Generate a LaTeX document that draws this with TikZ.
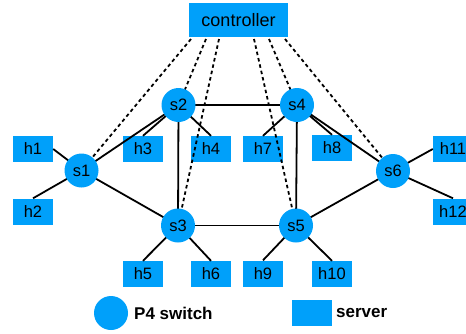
\documentclass[tikz,border=0pt]{standalone}
\usepackage{fontspec}
\setmainfont{Liberation Sans}
\definecolor{netblue}{RGB}{0,160,250}
\tikzset{
  switchnode/.style={circle, fill=netblue, minimum size=34pt, inner sep=0pt, font=\fontsize{16.5}{16.5}\selectfont},
  hostnode/.style={rectangle, fill=netblue, minimum width=40pt, minimum height=26pt, inner sep=0pt, font=\fontsize{16.5}{16.5}\selectfont},
  ctrlnode/.style={rectangle, fill=netblue, minimum width=99pt, minimum height=34pt, inner sep=0pt, font=\fontsize{18}{18}\selectfont},
  link/.style={line width=1.8pt, black},
  ctrllink/.style={line width=1.8pt, black, dash pattern=on 3.5pt off 3pt},
  legendtext/.style={anchor=west, inner sep=0pt, font=\bfseries\fontsize{17}{17}\selectfont}
}
\begin{document}
\begin{tikzpicture}[x=1pt, y=-1pt]
\useasboundingbox (0,0) rectangle (466,333);
\clip (0,0) rectangle (466,333);

% controller and the points where its control links leave it
\node[ctrlnode] (ctrl) at (238.5,20) {controller};
\coordinate (c1) at (191,39);
\coordinate (c2) at (206,39);
\coordinate (c3) at (219,39);
\coordinate (c4) at (254,39);
\coordinate (c5) at (269,39);
\coordinate (c6) at (285,39);

% hosts
\node[hostnode] (h1) at (33,149) {h1};
\node[hostnode] (h2) at (33,211.5) {h2};
\node[hostnode] (h3) at (143,149) {h3};
\node[hostnode] (h4) at (211,149) {h4};
\node[hostnode] (h7) at (263,149) {h7};
\node[hostnode] (h8) at (332,148) {h8};
\node[hostnode] (h11) at (453,149) {h11};
\node[hostnode] (h12) at (453,211.5) {h12};
\node[hostnode] (h5) at (143,274) {h5};
\node[hostnode] (h6) at (211,274) {h6};
\node[hostnode] (h9) at (263,273.5) {h9};
\node[hostnode] (h10) at (332,274) {h10};

% switch positions (switches are drawn later, on top of the links)
\coordinate (p1) at (81.5,170.5);
\coordinate (p2) at (178.5,105);
\coordinate (p3) at (178,225.5);
\coordinate (p4) at (297,105);
\coordinate (p5) at (296,225.5);
\coordinate (p6) at (393,171);

% data-plane links
\draw[link] (h1.east) -- (p1);
\draw[link] (h2.north) -- (p1);
\draw[link] (p1) -- (p2);
\draw[link] (p1) -- (p3);
\draw[link] (p2) -- (p4);
\draw[link] (p2) -- (p3);
\draw[link] (p2) -- (h3.north);
\draw[link] (p2) -- (h4.north);
\draw[link] (p4) -- (h7.north);
\draw[link] (p4) -- (h8.north);
\draw[link] (p4) -- (p5);
\draw[link] (p4) -- (p6);
\draw[link] (p3) -- (p5);
\draw[link] (p3) -- (h5.north);
\draw[link] (p3) -- (h6.north);
\draw[link] (p5) -- (h9.north);
\draw[link] (p5) -- (h10.north);
\draw[link] (p5) -- (p6);
\draw[link] (p6) -- (h11.west);
\draw[link] (p6) -- (h12.north);

% control-plane links
\draw[ctrllink] (c1) -- (p1);
\draw[ctrllink] (c2) -- (p2);
\draw[ctrllink] (c3) -- (p3);
\draw[ctrllink] (c4) -- (p5);
\draw[ctrllink] (c5) -- (p4);
\draw[ctrllink] (c6) -- (p6);

% switches
\node[switchnode] (s1) at (p1) {s1};
\node[switchnode] (s2) at (p2) {s2};
\node[switchnode] (s3) at (p3) {s3};
\node[switchnode] (s4) at (p4) {s4};
\node[switchnode] (s5) at (p5) {s5};
\node[switchnode] (s6) at (p6) {s6};

% legend
\node[switchnode] (legsw) at (111,313) {};
\node[legendtext] (legswt) at (134,313) {P4 switch};
\node[hostnode] (legsv) at (312,313) {};
\node[legendtext] (legsvt) at (336,313) {server};
\end{tikzpicture}
\end{document}
